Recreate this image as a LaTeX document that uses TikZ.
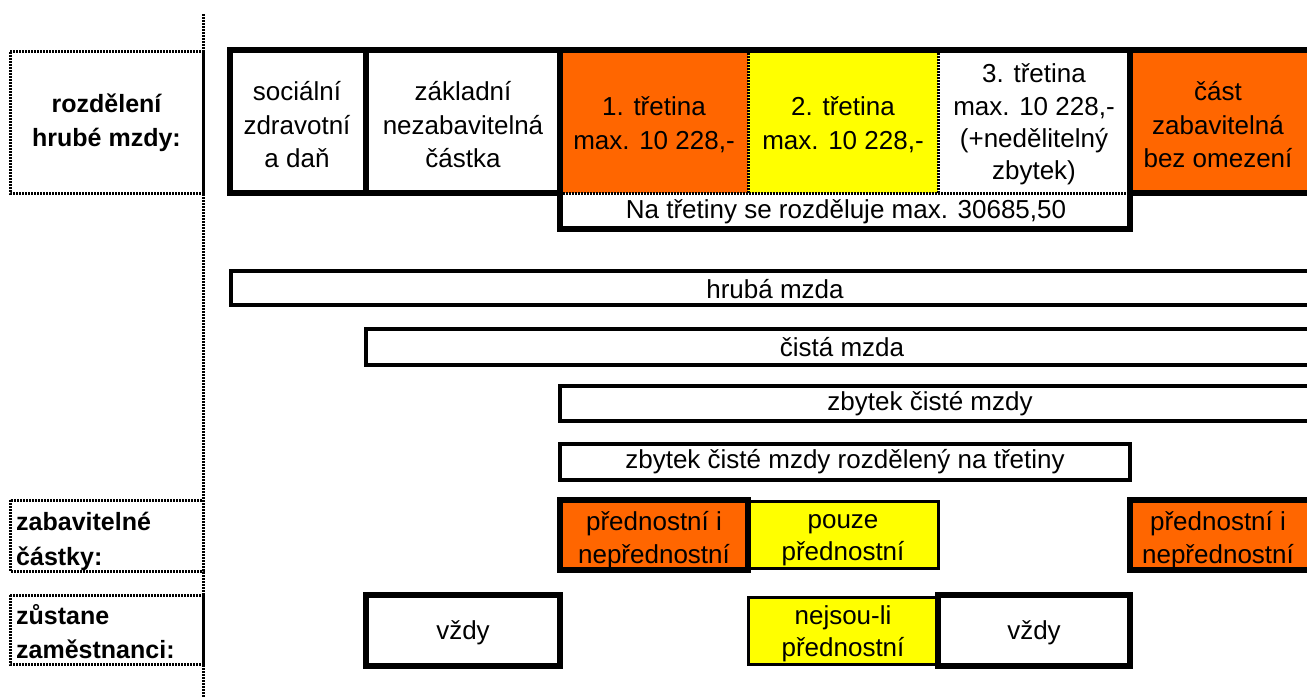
\documentclass[tikz,border=0pt]{standalone}
\usepackage{fontspec}
\setmainfont{Liberation Sans}
\definecolor{xorange}{HTML}{FF6600}
\definecolor{xyellow}{HTML}{FFFF00}
\tikzset{
  thickline/.style={line width=6pt, line join=miter},
  barline/.style={line width=4.5pt, line join=miter},
  thinline/.style={line width=3pt, line join=miter},
  dotline/.style={line width=3pt, dash pattern=on 2pt off 1pt},
  txt/.style={font=\fontsize{26}{33.5}\selectfont, align=center, inner sep=0pt},
  txtf/.style={font=\fontsize{26}{32.3}\selectfont, align=center, inner sep=0pt},
  txtb/.style={font=\fontsize{26}{32.5}\selectfont, align=center, inner sep=0pt},
  lbl/.style={font=\bfseries\fontsize{25}{34.5}\selectfont, inner sep=0pt},
}
\begin{document}
\begin{tikzpicture}[x=1pt,y=-1pt]
\path[use as bounding box] (0,0) rectangle (1307,698);
% ---------- left labels ----------
\draw[dotline] (203,14) -- (203,698);
\draw[dotline] (10,52) rectangle (203,193);
\draw[dotline] (10,500) rectangle (203,571);
\draw[dotline] (10,595) rectangle (203,664);
\node[lbl, align=center] (lab1) at (106.5,123) {rozdělení\\hrubé mzdy:};
\node[lbl, align=left, anchor=west] (lab2) at (16,541.5) {zabavitelné\\částky:};
\node[lbl, align=left, anchor=west] (lab3) at (16,631.5) {zůstane\\zaměstnanci:};
% ---------- top row ----------
\fill[xorange] (560,50) rectangle (748,193);
\fill[xyellow] (748,50) rectangle (938,193);
\fill[xorange] (1130,50) rectangle (1307,193);
\draw[dotline] (748,50) -- (748,193);
\draw[dotline] (938,50) -- (938,193);
\draw[dotline] (560,193) -- (1130,193);
\draw[thickline] (1307,50) -- (230,50) -- (230,193) -- (560,193) -- (560,229) -- (1130,229) -- (1130,193) -- (1307,193);
\draw[thickline] (366,50) -- (366,193);
\draw[thickline] (560,50) -- (560,193);
\draw[thickline] (1130,50) -- (1130,193);
\node[txt] (t1) at (297,125) {sociální\\zdravotní\\a daň};
\node[txt] (t2) at (463,125) {základní\\nezabavitelná\\částka};
\node[txt] (t3) at (654,124.5) {1. třetina\\max. 10 228,-};
\node[txt] (t4) at (843,124.5) {2. třetina\\max. 10 228,-};
\node[txtf] (t5) at (1034,124.5) {3. třetina\\max. 10 228,-\\(+nedělitelný\\zbytek)};
\node[txt] (t6) at (1218,125) {část\\zabavitelná\\bez omezení};
\node[txt] (t7) at (846,212) {Na třetiny se rozděluje max. 30685,50};
% ---------- bars ----------
\draw[barline] (1307,271) -- (231,271) -- (231,305) -- (1307,305);
\node[txt] (b1) at (775,289) {hrubá mzda};
\draw[barline] (1307,329) -- (366,329) -- (366,365) -- (1307,365);
\node[txt] (b2) at (842,347) {čistá mzda};
\draw[barline] (1307,386) -- (560,386) -- (560,421) -- (1307,421);
\node[txt] (b3) at (930,404) {zbytek čisté mzdy};
\draw[barline] (560,444) rectangle (1130,480);
\node[txt] (b4) at (845,462) {zbytek čisté mzdy rozdělený na třetiny};
% ---------- zabavitelne castky ----------
\draw[thinline, fill=xyellow] (748,501.5) rectangle (938,568.5);
\draw[thickline, fill=xorange] (560,500) rectangle (748,570);
\fill[xorange] (1130,500) rectangle (1307,570);
\draw[thickline] (1307,500) -- (1130,500) -- (1130,570) -- (1307,570);
\node[txtb] (z1) at (654,540) {přednostní i\\nepřednostní};
\node[txtb] (z2) at (843,540) {pouze\\přednostní};
\node[txtb] (z3) at (1218,540) {přednostní i\\nepřednostní};
% ---------- zustane zamestnanci ----------
\draw[thickline] (366,595) rectangle (560,666);
\draw[thinline, fill=xyellow] (748,597) rectangle (938,664);
\draw[thickline] (938,595) rectangle (1130,666);
\node[txtb] (v1) at (463,633) {vždy};
\node[txtb] (v2) at (843,634) {nejsou-li\\přednostní};
\node[txtb] (v3) at (1034,633) {vždy};
\end{tikzpicture}
\end{document}
